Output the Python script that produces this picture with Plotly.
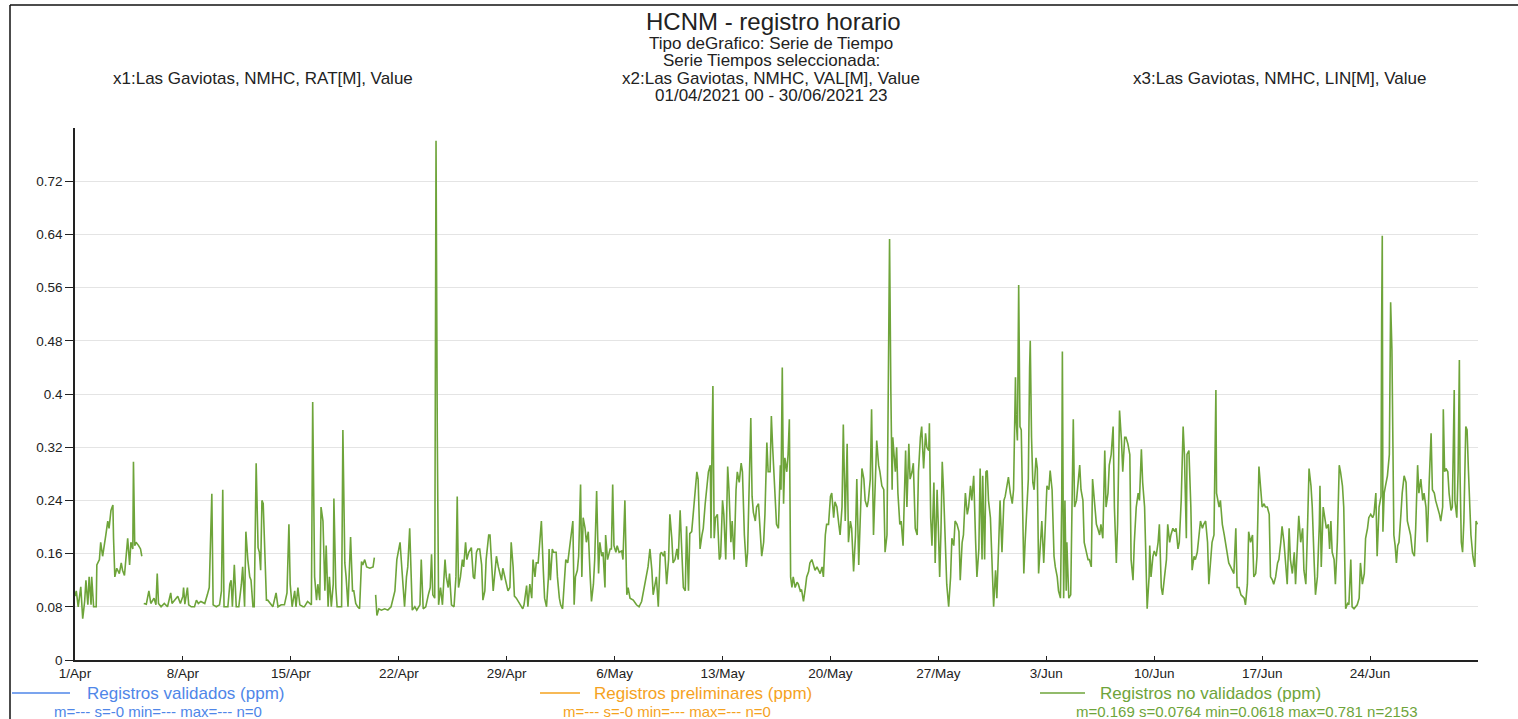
import pandas as pd
import plotly.graph_objects as go

START = "2021-04-01 00:00"

# (hour since start, ppm) readings; None = missing record
april = [
    (0, 0.096), (2, 0.104), (5, 0.08), (9, 0.11), (12, 0.062), (15, 0.088), (17, 0.12), (20, 0.083),
    (22, 0.125), (25, 0.083), (26, 0.125), (29, 0.08), (33, 0.08), (34, 0.143), (38, 0.151), (40, 0.177),
    (43, 0.156), (46, 0.18), (48, 0.188), (51, 0.209), (53, 0.198), (56, 0.225), (59, 0.233), (60, 0.183),
    (62, 0.125), (65, 0.138), (69, 0.13), (72, 0.146), (74, 0.135), (77, 0.127), (79, 0.151), (82, 0.183),
    (85, 0.143), (87, 0.177), (90, 0.167), (91, 0.298), (93, 0.172), (95, 0.177), (99, 0.172), (102, 0.167),
    (104, 0.156), (105, None), (107, 0.085), (111, 0.084), (115, 0.104), (118, 0.085), (123, 0.093),
    (126, 0.083), (128, 0.13), (130, 0.085), (134, 0.08), (139, 0.085), (144, 0.08), (149, 0.101),
    (151, 0.085), (155, 0.09), (160, 0.096), (164, 0.085), (168, 0.096), (169, 0.109), (171, 0.084),
    (175, 0.109), (177, 0.083), (181, 0.08), (186, 0.08), (189, 0.09), (192, 0.085), (196, 0.088),
    (202, 0.085), (206, 0.098), (209, 0.109), (213, 0.25), (215, 0.083),
    (220, 0.08), (225, 0.083), (228, 0.104), (230, 0.256), (232, 0.08), (235, 0.08), (238, 0.08),
    (241, 0.114), (243, 0.12), (245, 0.08), (248, 0.143), (251, 0.08), (255, 0.08), (259, 0.114),
    (261, 0.14), (264, 0.08), (266, 0.193), (269, 0.151), (272, 0.125), (274, 0.12), (277, 0.08),
    (279, 0.08), (282, 0.296), (285, 0.169), (287, 0.162), (289, 0.135), (291, 0.24), (293, 0.235),
    (296, 0.125), (298, 0.09), (300, 0.09), (305, 0.083), (308, 0.08), (313, 0.101), (316, 0.08),
    (321, 0.083), (326, 0.083), (330, 0.101), (333, 0.204), (335, 0.114), (338, 0.08), (342, 0.104),
    (344, 0.08), (347, 0.109), (350, 0.083), (355, 0.08), (357, 0.08), (362, 0.088), (368, 0.083),
    (370, 0.388), (373, 0.125), (376, 0.09), (378, 0.114), (381, 0.09), (383, 0.23), (386, 0.209),
    (389, 0.104), (391, 0.172), (394, 0.08), (396, 0.125), (399, 0.08), (402, 0.114), (403, 0.243),
    (406, 0.109), (408, 0.08), (411, 0.08), (415, 0.08), (417, 0.346), (420, 0.146), (422, 0.125),
    (425, 0.08),
    (429, 0.185), (432, 0.104), (434, 0.104), (437, 0.085), (440, 0.08), (443, 0.077), (446, 0.148),
    (448, 0.143), (451, 0.151), (454, 0.14), (459, 0.138), (464, 0.14), (466, 0.154), (467, None),
    (468, 0.098), (470, 0.067), (473, 0.077), (477, 0.075), (482, 0.077), (487, 0.075), (492, 0.08),
    (498, 0.104), (501, 0.151), (504, 0.169), (506, 0.177), (509, 0.135), (511, 0.104), (513, 0.08),
    (516, 0.125), (518, 0.14), (521, 0.198), (523, 0.125), (525, 0.075), (529, 0.08), (532, 0.075),
    (537, 0.083), (539, 0.151), (542, 0.077), (546, 0.08), (550, 0.098), (553, 0.109), (555, 0.159),
    (557, 0.098), (560, 0.093), (562, 0.781), (564, 0.335), (566, 0.083), (569, 0.109), (572, 0.083),
    (576, 0.151), (578, 0.125), (581, 0.109), (583, 0.13), (586, 0.083), (590, 0.08), (593, 0.125),
    (595, 0.246), (597, 0.109), (600, 0.125), (603, 0.151), (605, 0.14), (608, 0.177), (610, 0.151),
    (613, 0.162), (617, 0.169), (620, 0.125), (622, 0.122), (625, 0.162), (627, 0.167), (630, 0.167),
    (633, 0.143), (635, 0.09), (638, 0.104), (640, 0.151), (644, 0.188),
    (646, 0.188), (648, 0.151), (651, 0.104), (653, 0.125), (656, 0.156), (659, 0.14), (661, 0.13),
    (664, 0.12), (666, 0.138), (669, 0.125), (672, 0.114), (674, 0.104), (677, 0.109), (679, 0.177),
    (682, 0.14), (684, 0.096), (687, 0.093), (692, 0.085), (697, 0.077), (699, 0.083), (703, 0.112),
    (705, 0.08), (708, 0.114), (711, 0.093), (713, 0.151), (716, 0.125), (718, 0.146),
]

may = [
    (721, 0.146), (724, 0.177), (726, 0.209), (729, 0.135), (731, 0.093), (734, 0.08), (737, 0.125),
    (738, 0.167), (740, 0.12), (743, 0.167), (745, 0.162), (749, 0.162), (751, 0.125), (754, 0.093),
    (756, 0.083), (759, 0.077), (762, 0.125), (764, 0.151), (767, 0.146), (769, 0.162), (772, 0.177),
    (775, 0.209), (777, 0.083), (779, 0.125), (782, 0.135), (784, 0.156), (787, 0.264), (789, 0.125),
    (791, 0.214), (794, 0.198), (796, 0.177), (799, 0.193), (802, 0.125), (804, 0.088), (807, 0.114),
    (809, 0.151), (812, 0.254), (815, 0.13), (817, 0.177), (820, 0.156), (822, 0.162), (825, 0.109),
    (826, 0.188), (829, 0.151), (833, 0.167), (835, 0.167), (837, 0.264), (839, 0.172), (842, 0.162),
    (844, 0.172), (847, 0.162), (851, 0.164), (853, 0.151), (856, 0.24), (859, 0.098), (861, 0.109),
    (864, 0.093), (869, 0.09), (874, 0.083), (878, 0.08), (882, 0.088), (885, 0.104), (887, 0.109),
    (890, 0.13), (892, 0.14), (895, 0.167), (898, 0.135), (900, 0.098), (903, 0.114), (905, 0.125),
    (908, 0.08), (911, 0.159), (913, 0.162), (916, 0.156), (918, 0.164), (921, 0.114), (924, 0.151),
    (926, 0.219), (929, 0.183), (931, 0.146), (934, 0.151), (937, 0.167), (939, 0.151), (942, 0.225),
    (944, 0.177), (947, 0.109), (950, 0.104), (952, 0.201), (955, 0.104), (957, 0.19), (960, 0.193),
    (962, 0.214), (965, 0.256), (968, 0.283), (970, 0.272), (973, 0.167), (976, 0.188), (978, 0.198),
    (981, 0.235), (983, 0.256), (986, 0.283), (989, 0.293), (990, 0.183), (992, 0.351), (993, 0.412),
    (995, 0.183), (997, 0.214), (1000, 0.219), (1003, 0.151), (1005, 0.156), (1008, 0.24), (1010, 0.219),
    (1013, 0.151), (1016, 0.291), (1018, 0.256), (1021, 0.177), (1023, 0.209), (1026, 0.151),
    (1029, 0.256), (1031, 0.283), (1034, 0.267), (1037, 0.296), (1039, 0.283), (1042, 0.188),
    (1045, 0.14), (1047, 0.162), (1050, 0.262), (1052, 0.364), (1054, 0.246), (1056, 0.222),
    (1059, 0.209), (1061, 0.23), (1064, 0.235), (1066, 0.198), (1069, 0.156), (1072, 0.177),
    (1074, 0.219), (1077, 0.327), (1079, 0.283),
    (1082, 0.283), (1084, 0.367), (1086, 0.32), (1088, 0.283), (1090, 0.262), (1092, 0.204),
    (1095, 0.198), (1098, 0.293), (1099, 0.256), (1101, 0.44), (1103, 0.235), (1105, 0.304),
    (1108, 0.283), (1110, 0.309), (1112, 0.362), (1114, 0.125), (1116, 0.109), (1118, 0.125),
    (1121, 0.109), (1124, 0.117), (1126, 0.114), (1129, 0.104), (1131, 0.106), (1134, 0.088),
    (1137, 0.109), (1139, 0.125), (1142, 0.133), (1144, 0.146), (1147, 0.151), (1150, 0.14),
    (1152, 0.135), (1155, 0.14), (1157, 0.135), (1160, 0.13), (1163, 0.14), (1165, 0.125),
    (1168, 0.188), (1170, 0.204), (1173, 0.204), (1176, 0.246), (1178, 0.251), (1181, 0.214),
    (1183, 0.238), (1186, 0.23), (1189, 0.204), (1191, 0.188), (1194, 0.23), (1196, 0.354),
    (1199, 0.209), (1202, 0.325), (1204, 0.177), (1207, 0.209), (1209, 0.198), (1212, 0.133),
    (1215, 0.188), (1217, 0.272), (1220, 0.143), (1222, 0.214), (1225, 0.288), (1228, 0.272),
    (1230, 0.24), (1233, 0.23), (1235, 0.24), (1238, 0.272), (1240, 0.377), (1243, 0.188),
    (1246, 0.283), (1248, 0.33), (1251, 0.293), (1253, 0.283), (1256, 0.262), (1259, 0.256),
    (1261, 0.162), (1264, 0.188), (1266, 0.409), (1268, 0.633), (1270, 0.404), (1272, 0.256),
    (1273, 0.335), (1275, 0.304), (1277, 0.283), (1279, 0.32), (1281, 0.251), (1284, 0.204),
    (1286, 0.209), (1289, 0.172), (1291, 0.256), (1293, 0.315), (1295, 0.23), (1298, 0.325),
    (1300, 0.272), (1303, 0.283), (1305, 0.296), (1308, 0.198), (1311, 0.188), (1313, 0.283),
    (1316, 0.335), (1318, 0.351), (1321, 0.288), (1324, 0.341), (1326, 0.32), (1329, 0.315),
    (1330, 0.356), (1332, 0.214), (1334, 0.172), (1337, 0.267), (1339, 0.146), (1342, 0.256),
    (1344, 0.198), (1346, 0.125), (1348, 0.193), (1350, 0.298), (1352, 0.256), (1355, 0.151),
    (1357, 0.114), (1360, 0.08), (1363, 0.125), (1365, 0.183), (1368, 0.172), (1370, 0.209),
    (1373, 0.204), (1376, 0.193), (1378, 0.12), (1381, 0.177), (1383, 0.188), (1386, 0.251),
    (1389, 0.219), (1391, 0.23), (1394, 0.262), (1396, 0.24), (1399, 0.277), (1402, 0.177),
    (1404, 0.125), (1407, 0.167), (1409, 0.288), (1412, 0.151), (1413, 0.277), (1416, 0.151),
    (1418, 0.283), (1420, 0.285), (1422, 0.24), (1425, 0.214), (1428, 0.125), (1430, 0.08),
    (1433, 0.135), (1435, 0.093), (1438, 0.177), (1440, 0.24), (1443, 0.162), (1446, 0.24),
    (1448, 0.246), (1451, 0.262), (1453, 0.275), (1456, 0.251), (1459, 0.235), (1461, 0.256),
]

june = [
    (1464, 0.425), (1465, 0.362), (1467, 0.33), (1469, 0.564), (1471, 0.351), (1473, 0.346),
    (1475, 0.256), (1477, 0.13), (1479, 0.177), (1482, 0.246), (1484, 0.272), (1486, 0.44),
    (1487, 0.48), (1489, 0.335), (1491, 0.267), (1493, 0.256), (1496, 0.304), (1498, 0.288),
    (1500, 0.13), (1503, 0.177), (1505, 0.209), (1508, 0.146), (1511, 0.204), (1513, 0.262),
    (1516, 0.256),
    (1518, 0.285), (1521, 0.256), (1524, 0.156), (1526, 0.14), (1529, 0.125), (1531, 0.104),
    (1534, 0.093), (1536, 0.24), (1537, 0.464), (1539, 0.093), (1541, 0.24), (1543, 0.104),
    (1544, 0.177), (1547, 0.093), (1550, 0.098), (1552, 0.23), (1554, 0.362), (1556, 0.23),
    (1559, 0.24), (1562, 0.272), (1564, 0.293), (1566, 0.256), (1569, 0.24), (1571, 0.177),
    (1574, 0.162), (1577, 0.151), (1579, 0.151), (1582, 0.14), (1584, 0.272), (1587, 0.23),
    (1590, 0.204), (1592, 0.198), (1595, 0.188), (1597, 0.204), (1600, 0.183), (1603, 0.315),
    (1605, 0.23), (1608, 0.251), (1610, 0.293), (1613, 0.309), (1616, 0.351), (1618, 0.23),
    (1621, 0.146), (1623, 0.204), (1626, 0.375), (1629, 0.33), (1631, 0.283), (1634, 0.335),
    (1636, 0.335), (1639, 0.325), (1642, 0.309), (1644, 0.151), (1647, 0.12), (1649, 0.177),
    (1652, 0.23), (1655, 0.251), (1657, 0.24), (1660, 0.317), (1662, 0.267), (1665, 0.23),
    (1668, 0.109), (1669, 0.077), (1672, 0.125), (1673, 0.172), (1675, 0.125), (1678, 0.156),
    (1680, 0.164), (1683, 0.156), (1686, 0.177), (1688, 0.204), (1691, 0.109), (1693, 0.098),
    (1696, 0.125), (1699, 0.151), (1701, 0.204), (1704, 0.177), (1706, 0.188), (1709, 0.198),
    (1712, 0.193), (1714, 0.198), (1717, 0.167), (1719, 0.177), (1722, 0.24), (1725, 0.351),
    (1727, 0.309), (1730, 0.183), (1731, 0.309), (1734, 0.315),
    (1737, 0.23), (1739, 0.135), (1742, 0.156), (1744, 0.151), (1747, 0.162), (1750, 0.188),
    (1752, 0.209), (1755, 0.198), (1757, 0.204), (1760, 0.209), (1763, 0.177), (1765, 0.114),
    (1768, 0.151), (1770, 0.177), (1773, 0.188), (1776, 0.406), (1777, 0.251), (1779, 0.24),
    (1781, 0.23), (1783, 0.24), (1786, 0.204), (1789, 0.188), (1791, 0.177), (1794, 0.156),
    (1796, 0.146), (1799, 0.14), (1802, 0.135), (1804, 0.13), (1807, 0.198), (1809, 0.109),
    (1812, 0.109), (1815, 0.098), (1817, 0.096), (1820, 0.093), (1822, 0.083), (1825, 0.114),
    (1827, 0.193), (1830, 0.177), (1833, 0.188), (1835, 0.125), (1838, 0.13), (1840, 0.156),
    (1843, 0.291), (1846, 0.256), (1848, 0.23), (1851, 0.235), (1853, 0.23), (1856, 0.23),
    (1859, 0.219), (1861, 0.125), (1864, 0.12), (1866, 0.114), (1869, 0.125), (1872, 0.146),
    (1874, 0.151), (1877, 0.177), (1879, 0.201), (1882, 0.177), (1885, 0.14), (1887, 0.114),
    (1890, 0.198), (1892, 0.151), (1895, 0.13), (1898, 0.162), (1900, 0.114), (1903, 0.177),
    (1905, 0.217), (1908, 0.177), (1911, 0.198), (1913, 0.135), (1916, 0.114), (1918, 0.177),
    (1921, 0.288), (1924, 0.262), (1926, 0.23), (1929, 0.146), (1931, 0.098), (1934, 0.125),
    (1937, 0.204), (1938, 0.262), (1940, 0.14), (1943, 0.23), (1945, 0.214), (1948, 0.198),
    (1951, 0.204), (1953, 0.167),
    (1955, 0.209), (1957, 0.162), (1960, 0.151), (1962, 0.114), (1965, 0.177), (1968, 0.293),
    (1970, 0.283), (1973, 0.262), (1975, 0.23), (1978, 0.077), (1981, 0.085), (1983, 0.083),
    (1986, 0.151), (1988, 0.08), (1991, 0.077), (1994, 0.08), (1996, 0.083), (1999, 0.093),
    (2001, 0.146), (2004, 0.114), (2007, 0.13), (2009, 0.183), (2012, 0.198), (2014, 0.214),
    (2017, 0.219), (2020, 0.214), (2022, 0.219), (2025, 0.251), (2027, 0.156), (2030, 0.23),
    (2033, 0.246), (2034, 0.509), (2035, 0.638), (2036, 0.193), (2038, 0.251), (2040, 0.262),
    (2043, 0.277), (2046, 0.309), (2047, 0.409), (2048, 0.538), (2050, 0.467), (2051, 0.335),
    (2053, 0.188), (2055, 0.172), (2057, 0.146), (2059, 0.172), (2061, 0.177), (2064, 0.219),
    (2066, 0.251), (2069, 0.277), (2072, 0.267), (2074, 0.209), (2077, 0.198), (2079, 0.188),
    (2082, 0.162), (2085, 0.156), (2087, 0.198), (2090, 0.293), (2092, 0.251), (2095, 0.272),
    (2098, 0.24), (2100, 0.251), (2103, 0.23), (2105, 0.177), (2108, 0.267), (2111, 0.341),
    (2113, 0.256), (2116, 0.251), (2118, 0.24), (2121, 0.23), (2124, 0.219), (2126, 0.209),
    (2129, 0.23), (2130, 0.377), (2132, 0.283), (2134, 0.288), (2137, 0.283), (2139, 0.251),
    (2142, 0.225), (2144, 0.23), (2147, 0.406), (2148, 0.24), (2151, 0.214), (2153, 0.283),
    (2155, 0.451), (2156, 0.283), (2158, 0.177), (2160, 0.162), (2162, 0.209), (2165, 0.351),
    (2167, 0.346), (2169, 0.288), (2171, 0.23), (2173, 0.188), (2176, 0.156), (2179, 0.14),
    (2181, 0.209), (2183, 0.204),
]

tick_labels = ["1/Apr", "8/Apr", "15/Apr", "22/Apr", "29/Apr", "6/May", "13/May",
               "20/May", "27/May", "3/Jun", "10/Jun", "17/Jun", "24/Jun"]
y_tick_values = [0, 0.08, 0.16, 0.24, 0.32, 0.40, 0.48, 0.56, 0.64, 0.72]
y_tick_labels = ["0", "0.08", "0.16", "0.24", "0.32", "0.4", "0.48", "0.56", "0.64", "0.72"]

title_main = "HCNM - registro horario"
title_lines = ["Tipo deGrafico: Serie de Tiempo", "Serie Tiempos seleccionada:",
               "x2:Las Gaviotas, NMHC, VAL[M], Value", "01/04/2021 00 - 30/06/2021 23"]
series_left = "x1:Las Gaviotas, NMHC, RAT[M], Value"
series_right = "x3:Las Gaviotas, NMHC, LIN[M], Value"

legend_names = ["Registros validados (ppm)", "Registros preliminares (ppm)", "Registros no validados (ppm)"]
legend_colors = ["#4f86e8", "#f5a21e", "#6ea43a"]
legend_stats = ["m=--- s=-0 min=--- max=--- n=0", "m=--- s=-0 min=--- max=--- n=0",
                "m=0.169 s=0.0764 min=0.0618 max=0.781 n=2153"]

# ---------------------------------------------------------------------------
readings = april + may + june
hours = [h for h, _ in readings]
ppm = [v for _, v in readings]
t0 = pd.Timestamp(START)
x = [t0 + pd.Timedelta(hours=h) for h in hours]
tick_dates = [t0 + pd.Timedelta(days=7 * i) for i in range(len(tick_labels))]

W, H = 1518, 719
ML, MR, MT, MB = 75, 40, 128, 59
PW, PH = W - ML - MR, H - MT - MB


def pxx(p):
    return (p - ML) / PW


def pxy(p):
    return (H - MB - p) / PH


FONT = "Liberation Sans, Arial, sans-serif"
INK = "#222"

fig = go.Figure()
fig.add_trace(go.Scatter(x=x, y=ppm, mode="lines", connectgaps=False,
                         line=dict(color="#6ea43a", width=1.6), showlegend=False,
                         hoverinfo="x+y"))

ann = []
ann.append(dict(text=title_main, x=pxx(773), y=pxy(21), font=dict(size=24, color=INK)))
for t, yy in zip(title_lines, [43, 61, 78, 95]):
    ann.append(dict(text=t, x=pxx(771), y=pxy(yy), font=dict(size=17, color=INK)))
ann.append(dict(text=series_left, x=pxx(263), y=pxy(78), font=dict(size=17, color=INK)))
ann.append(dict(text=series_right, x=pxx(1280), y=pxy(78), font=dict(size=17, color=INK)))

shapes = []
leg_line = [(12, 70), (540, 580), (1040, 1085)]
leg_text = [85, 592, 1098]
leg_stat = [158, 667, 1247]
for name, col, st, (a, b), tx, sx in zip(legend_names, legend_colors, legend_stats,
                                           leg_line, leg_text, leg_stat):
    shapes.append(dict(type="line", xref="paper", yref="paper", x0=pxx(a), x1=pxx(b),
                       y0=pxy(693), y1=pxy(693), line=dict(color=col, width=1.5)))
    ann.append(dict(text=name, x=pxx(tx), y=pxy(693), xanchor="left",
                    font=dict(size=17, color=col)))
    ann.append(dict(text=st, x=pxx(sx), y=pxy(711), font=dict(size=15, color=col)))

# frame around the whole chart (top and left edges visible)
shapes.append(dict(type="line", xref="paper", yref="paper", x0=pxx(10), x1=pxx(1518),
                   y0=pxy(5), y1=pxy(5), line=dict(color="#111", width=1.5)))
shapes.append(dict(type="line", xref="paper", yref="paper", x0=pxx(10), x1=pxx(10),
                   y0=pxy(5), y1=pxy(719), line=dict(color="#111", width=1.5)))

for a in ann:
    a.setdefault("xref", "paper")
    a.setdefault("yref", "paper")
    a.setdefault("xanchor", "center")
    a["yanchor"] = "middle"
    a["showarrow"] = False
    a["font"]["family"] = FONT

fig.update_layout(
    width=W, height=H,
    margin=dict(l=ML, r=MR, t=MT, b=MB, pad=0),
    paper_bgcolor="white", plot_bgcolor="white",
    font=dict(family=FONT, size=13, color=INK),
    annotations=ann, shapes=shapes,
    showlegend=False,
)
fig.update_xaxes(
    type="date", range=[t0, t0 + pd.Timedelta(hours=2184)],
    tickvals=tick_dates, ticktext=tick_labels,
    showgrid=False, zeroline=False,
    showline=True, linecolor=INK, linewidth=1.5,
    ticks="inside", ticklen=4, tickcolor=INK,
    tickfont=dict(size=13.5, color=INK),
)
fig.update_yaxes(
    range=[0, 0.80],
    tickvals=y_tick_values, ticktext=y_tick_labels,
    showgrid=True, gridcolor="#e4e4e4", gridwidth=1,
    zeroline=False,
    showline=True, linecolor=INK, linewidth=1.5,
    ticks="outside", ticklen=8, tickcolor=INK,
    tickfont=dict(size=13.5, color=INK),
)

fig.write_html("out.html", config={"displayModeBar": False},
               post_script="document.body.style.margin='0';document.body.style.overflow='hidden';")
